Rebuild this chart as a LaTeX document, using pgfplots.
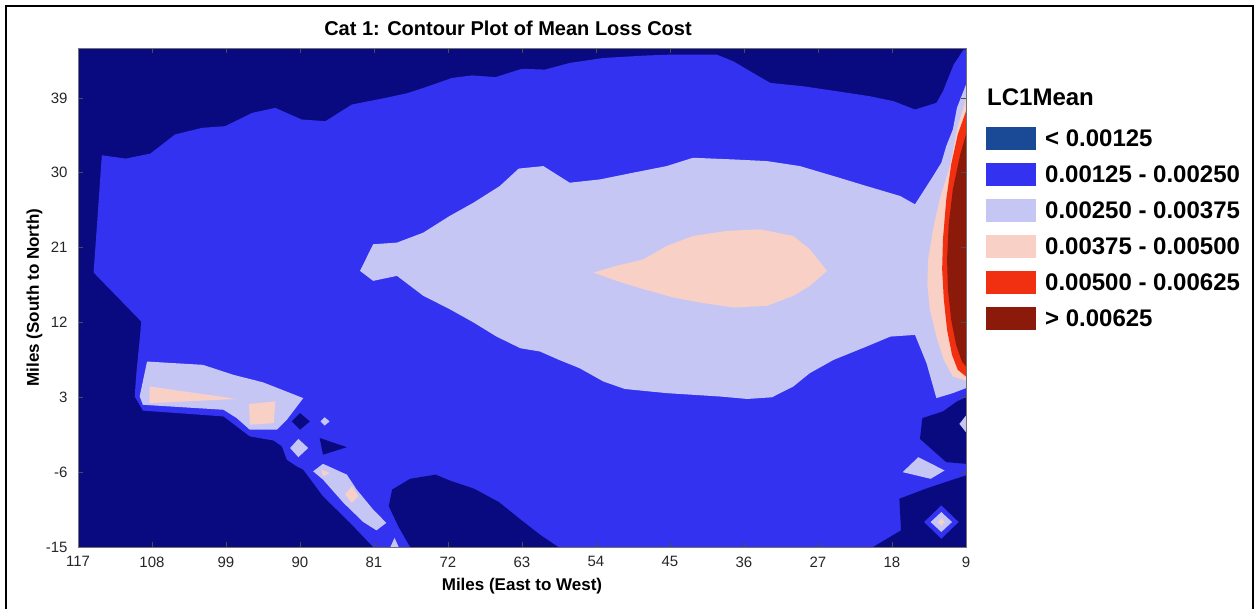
\documentclass[border=0pt]{standalone}
\usepackage{pgfplots}
\pgfplotsset{compat=1.18}
\usepackage{fontspec}
\setmainfont{Liberation Sans}

\definecolor{cDark}{RGB}{10,10,128}
\definecolor{cBlue}{RGB}{50,50,240}
\definecolor{cLav}{RGB}{198,198,245}
\definecolor{cPink}{RGB}{249,208,198}
\definecolor{cRed}{RGB}{240,48,16}
\definecolor{cDRed}{RGB}{140,26,10}
\definecolor{cLegDark}{RGB}{26,74,150}

\begin{document}
\begin{tikzpicture}[x=1pt,y=1pt]
\useasboundingbox (0,0) rectangle (1259,609);
\begin{axis}[
  at={(78pt,62pt)}, anchor=south west,
  scale only axis, width=888pt, height=499pt,
  x dir=reverse,
  xmin=9, xmax=117, ymin=-15, ymax=45,
  xtick={9,18,...,117}, ytick={-15,-6,...,39},
  axis on top,
  axis background/.style={fill=cDark},
  axis line style={draw=black!55, line width=0.8pt},
  tick style={draw=black!70, line width=0.6pt},
  major tick length=5pt,
  tick label style={font=\fontsize{15}{18}\selectfont, text=black!85},
  xticklabel style={yshift=-6pt},
  yticklabel style={xshift=-7pt},
  /pgf/number format/assume math mode=true,
  xlabel={Miles (East to West)},
  ylabel={Miles (South to North)},
  label style={font=\bfseries\fontsize{17}{20}\selectfont},
  xlabel style={at={(axis description cs:0.5,-0.079)}, anchor=center},
  ylabel style={at={(axis description cs:-0.049,0.5)}, anchor=center},
  legend image code/.code={\fill[#1] (0pt,-11.5pt) rectangle (50pt,11.5pt);},
  legend style={at={(axis description cs:1.0225,0.8414)}, anchor=north west,
    draw=none, fill=none, inner sep=0pt, row sep=13pt,
    font=\bfseries\fontsize{24}{28}\selectfont,
    nodes={inner sep=0pt},
    /tikz/every odd column/.append style={column sep=9pt}},
  legend cell align=left,
]
% 0.00125 - 0.00250
\addplot[fill=cBlue, draw=none, forget plot] coordinates {
 (114.1,32.1) (111.2,31.7) (108.2,32.3) (105.2,34.6) (101.9,35.4) (99.1,35.6)
 (95.8,37.2) (93.0,37.8) (89.8,36.4) (86.9,36.2) (83.7,38.2) (79.6,39.0)
 (76.8,39.6) (74.4,40.4) (71.5,41.4) (69.1,41.7) (66.2,41.5) (63.0,42.5)
 (60.2,42.4) (57.2,43.2) (53.1,43.8) (47.8,44.1) (45.0,44.2) (39.3,44.2)
 (37.3,43.4) (34.9,42.0) (32.8,40.8) (28.8,40.4) (24.7,39.8) (20.7,39.2)
 (17.8,38.6) (15.2,37.6) (12.6,38.4) (11.8,39.8) (10.5,43.0) (9.3,44.8)
 (9.0,44.8) (9.0,-15) (81.1,-15) (83.9,-12.1) (87.2,-8.9) (89.6,-5.7)
 (90.4,-5.3) (91.6,-4.5) (92.2,-2.9) (93.2,-2.2) (96.1,-1.7) (99.3,0.7)
 (109.1,1.4) (110.1,3.1) (109.9,5.9) (109.5,9.9) (109.3,12.1) (115.1,18.0)
 (114.6,25.0)
} -- cycle;
% below 0.00125 inside the band
\addplot[fill=cDark, draw=none, forget plot] coordinates {
 (76.6,-15) (78.0,-12.6) (79.2,-10.1) (78.8,-8.1) (76.6,-6.8) (73.5,-6.3)
 (71.8,-7.0) (68.8,-8.0) (65.8,-9.6) (63.3,-11.6) (60.7,-13.6) (58.6,-15)
} -- cycle;
\addplot[fill=cDark, draw=none, forget plot] coordinates {
 (90.0,1.1) (88.8,0.1) (90.0,-0.9) (91.0,0.1)
} -- cycle;
\addplot[fill=cDark, draw=none, forget plot] coordinates {
 (87.6,-1.9) (84.3,-3.0) (87.2,-3.9)
} -- cycle;
\addplot[fill=cDark, draw=none, forget plot] coordinates {
 (14.3,0.5) (11.8,1.3) (10.1,2.5) (9.0,3.0) (9.0,-5.0) (11.4,-4.8) (14.6,-2.0)
} -- cycle;
\addplot[fill=cDark, draw=none, forget plot] coordinates {
 (20.3,-15) (16.9,-13.0) (17.1,-9.2) (13.9,-8.0) (10.9,-7.0) (9.0,-6.4) (9.0,-15)
} -- cycle;
\addplot[fill=cBlue, draw=none, forget plot] coordinates {
 (14.1,-12.0) (12.0,-10.0) (9.9,-12.0) (12.0,-14.0)
} -- cycle;
% 0.00250 - 0.00375
\addplot[fill=cLav, draw=none, forget plot] coordinates {
 (82.7,18.2) (81.1,21.4) (78.2,21.6) (75.0,22.8) (71.8,24.8) (68.9,26.4)
 (65.7,28.4) (63.4,30.5) (60.4,30.8) (57.2,28.8) (53.5,29.2) (49.5,30.0)
 (45.4,30.8) (42.2,31.8) (37.3,31.6) (33.2,31.4) (29.2,30.8) (25.1,29.6)
 (21.1,28.4) (17.0,27.2) (15.2,26.2) (13.0,29.6) (12.0,31.2) (11.4,33.2)
 (10.6,35.2) (10.1,37.8) (9.0,40.6) (9.0,4.1) (10.6,3.5) (12.6,2.9)
 (13.8,7.1) (15.2,10.5) (18.2,10.3) (21.1,9.1) (25.1,7.5) (28.0,5.9)
 (30.0,4.3) (32.6,3.0) (35.6,2.8) (39.0,3.1) (45.4,3.5) (50.5,4.0)
 (53.1,4.9) (56.0,6.5) (58.5,7.5) (60.8,8.5) (63.2,8.9) (66.1,10.3)
 (68.9,12.0) (71.8,13.6) (75.0,15.2) (78.2,17.6) (81.1,17.0)
} -- cycle;
\addplot[fill=cLav, draw=none, forget plot] coordinates {
 (108.6,7.3) (101.8,6.9) (98.1,5.7) (94.5,4.8) (89.6,2.9) (91.6,0.3)
 (92.8,-0.9) (96.1,-0.9) (97.7,0.5) (99.3,1.5) (109.1,2.1) (109.5,3.1)
 (108.9,5.9)
} -- cycle;
\addplot[fill=cLav, draw=none, forget plot] coordinates {
 (87.0,0.6) (86.4,0.1) (87.0,-0.4) (87.5,0.1)
} -- cycle;
\addplot[fill=cLav, draw=none, forget plot] coordinates {
 (90.2,-2.0) (89.0,-3.1) (90.2,-4.2) (91.2,-3.1)
} -- cycle;
\addplot[fill=cLav, draw=none, forget plot] coordinates {
 (88.4,-5.9) (87.2,-5.0) (84.3,-6.3) (83.1,-8.1) (81.1,-10.5) (79.5,-12.1)
 (80.7,-13.0) (82.3,-12.0) (84.7,-9.7) (87.2,-6.9)
} -- cycle;
\addplot[fill=cLav, draw=none, forget plot] coordinates {
 (79.0,-15) (78.0,-15) (78.5,-13.9)
} -- cycle;
\addplot[fill=cLav, draw=none, forget plot] coordinates {
 (14.8,-4.2) (11.6,-5.8) (13.3,-6.8) (16.7,-6.0)
} -- cycle;
\addplot[fill=cLav, draw=none, forget plot] coordinates {
 (9.0,0.8) (9.8,-0.2) (9.0,-1.2)
} -- cycle;
\addplot[fill=cLav, draw=none, forget plot] coordinates {
 (13.3,-12.0) (12.0,-10.8) (10.7,-12.0) (12.0,-13.2)
} -- cycle;
% 0.00375 - 0.00500
\addplot[fill=cPink, draw=none, forget plot] coordinates {
 (54.3,18.0) (51.5,18.8) (48.2,19.6) (45.4,21.2) (42.2,22.4) (38.1,23.0)
 (34.1,23.2) (30.0,22.4) (28.0,20.8) (25.9,18.2) (28.0,16.4) (30.0,15.2)
 (33.2,14.0) (37.3,13.8) (41.4,14.4) (44.6,15.0) (48.2,16.0) (51.5,17.0)
} -- cycle;
\addplot[fill=cPink, draw=none, forget plot] coordinates {
 (108.3,4.3) (97.7,2.8) (108.3,2.3)
} -- cycle;
\addplot[fill=cPink, draw=none, forget plot] coordinates {
 (96.2,2.2) (93.0,2.5) (93.2,-0.1) (96.1,-0.3)
} -- cycle;
\addplot[fill=cPink, draw=none, forget plot] coordinates {
 (87.4,-5.7) (86.4,-6.1) (87.2,-6.5)
} -- cycle;
\addplot[fill=cPink, draw=none, forget plot] coordinates {
 (83.7,-7.7) (82.9,-8.9) (83.7,-9.7) (84.5,-8.7)
} -- cycle;
\addplot[fill=cPink, draw=none, forget plot] coordinates {
 (12.4,-12.0) (12.0,-11.6) (11.6,-12.0) (12.0,-12.4)
} -- cycle;
\addplot[fill=cPink, draw=none, forget plot] coordinates {
 (9.0,38.9) (10.1,35.2) (10.9,31.0) (12.2,26.8) (13.0,23.2) (13.6,19.6)
 (13.7,16.6) (13.4,13.6) (12.6,10.3) (11.7,7.5) (10.6,5.5) (9.0,5.0)
} -- cycle;
% 0.00500 - 0.00625
\addplot[fill=cRed, draw=none, forget plot] coordinates {
 (9.0,37.4) (10.0,34.6) (10.8,31.0) (11.4,26.8) (11.8,22.0) (11.9,18.4)
 (11.7,14.8) (11.3,11.1) (10.7,8.1) (10.0,6.3) (9.0,5.5)
} -- cycle;
% above 0.00625
\addplot[fill=cDRed, draw=none, forget plot] coordinates {
 (9.0,34.6) (9.7,32.2) (10.6,28.0) (11.1,23.8) (11.3,19.6) (11.2,16.0)
 (10.8,12.3) (10.2,9.3) (9.5,7.3) (9.0,6.7)
} -- cycle;

\addlegendimage{fill=cLegDark, draw=none}
\addlegendentry{< 0.00125}
\addlegendimage{fill=cBlue, draw=none}
\addlegendentry{0.00125 - 0.00250}
\addlegendimage{fill=cLav, draw=none}
\addlegendentry{0.00250 - 0.00375}
\addlegendimage{fill=cPink, draw=none}
\addlegendentry{0.00375 - 0.00500}
\addlegendimage{fill=cRed, draw=none}
\addlegendentry{0.00500 - 0.00625}
\addlegendimage{fill=cDRed, draw=none}
\addlegendentry{> 0.00625}
\end{axis}
\node[font=\bfseries\fontsize{20}{24}\selectfont, anchor=base] at (508,573) {Cat 1: Contour Plot of Mean Loss Cost};
\node[font=\bfseries\fontsize{24}{28}\selectfont, anchor=base west, inner sep=0pt] at (987,503.5) {LC1Mean};
\draw[line width=2pt] (6,-5) -- (6,603) -- (1253,603) -- (1253,-5);
\end{tikzpicture}
\end{document}
